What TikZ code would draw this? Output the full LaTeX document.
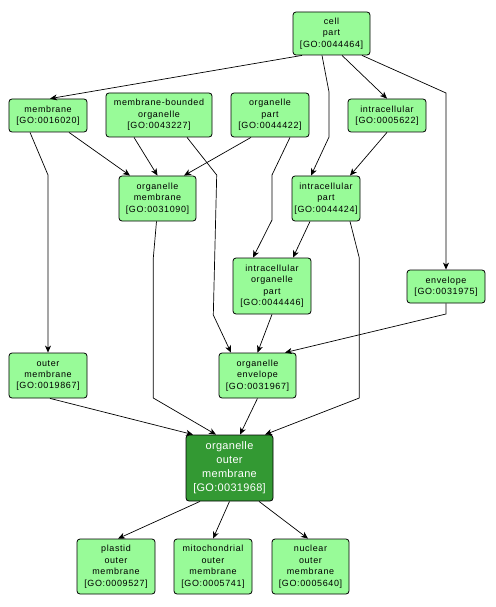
\documentclass[tikz,border=0pt]{standalone}
\usepackage{fontspec}
\setmainfont{Liberation Sans}[LetterSpace=7]
\newfontfamily\bigfont{Liberation Sans}[LetterSpace=3]
\usetikzlibrary{arrows.meta}
\definecolor{lightgo}{RGB}{152,251,152}
\definecolor{darkgo}{RGB}{51,153,51}
\tikzset{
  goterm/.style={draw=black, line width=0.8bp, fill=lightgo, rounded corners=3bp,
    align=center, inner sep=0pt, font=\fontsize{9}{11.5}\selectfont, text=black},
  focus/.style={goterm, fill=darkgo, text=white, font=\bigfont\fontsize{11}{14}\selectfont},
  edge/.style={draw=black, line width=0.7bp, -{Stealth[length=7bp,width=6bp,inset=2bp]}}
}
\begin{document}
\begin{tikzpicture}[x=1bp,y=-1bp]
\useasboundingbox[fill=white] (0,0) rectangle (496,607);
% nodes
\node[goterm, minimum width=77bp, minimum height=43bp] (cellpart) at (331.5,33.5) {cell\\part\\{[}GO:0044464{]}};
\node[goterm, minimum width=78bp, minimum height=33bp] (membrane) at (48,115.5) {membrane\\{[}GO:0016020{]}};
\node[goterm, minimum width=106bp, minimum height=44bp] (mbo) at (159,115) {membrane-bounded\\organelle\\{[}GO:0043227{]}};
\node[goterm, minimum width=78bp, minimum height=44bp] (opart) at (270,115) {organelle\\part\\{[}GO:0044422{]}};
\node[goterm, minimum width=78bp, minimum height=33bp] (intra) at (387,115.5) {intracellular\\{[}GO:0005622{]}};
\node[goterm, minimum width=77bp, minimum height=45bp] (omem) at (157.5,198.5) {organelle\\membrane\\{[}GO:0031090{]}};
\node[goterm, minimum width=68bp, minimum height=45bp] (ipart) at (326,198.5) {intracellular\\part\\{[}GO:0044424{]}};
\node[goterm, minimum width=78bp, minimum height=56bp] (iop) at (272,286) {intracellular\\organelle\\part\\{[}GO:0044446{]}};
\node[goterm, minimum width=78bp, minimum height=33bp] (env) at (446,286.5) {envelope\\{[}GO:0031975{]}};
\node[goterm, minimum width=78bp, minimum height=45bp] (outer) at (48,375.5) {outer\\membrane\\{[}GO:0019867{]}};
\node[goterm, minimum width=77bp, minimum height=45bp] (oenv) at (257.5,375.5) {organelle\\envelope\\{[}GO:0031967{]}};
\node[focus, minimum width=87bp, minimum height=66bp] (oom) at (229.5,468) {organelle\\outer\\membrane\\{[}GO:0031968{]}};
\node[goterm, minimum width=78bp, minimum height=55bp] (plastid) at (116,566.5) {plastid\\outer\\membrane\\{[}GO:0009527{]}};
\node[goterm, minimum width=78bp, minimum height=55bp] (mito) at (213,566.5) {mitochondrial\\outer\\membrane\\{[}GO:0005741{]}};
\node[goterm, minimum width=77bp, minimum height=55bp] (nuc) at (310.5,566.5) {nuclear\\outer\\membrane\\{[}GO:0005640{]}};
% bend points
\coordinate (b2a) at (329,92);
\coordinate (b2b) at (329,137);
\coordinate (b4) at (446,93);
\coordinate (b5) at (48,175);
\coordinate (b8a) at (216.7,175);
\coordinate (b8b) at (213.3,315);
\coordinate (b10a) at (272,175);
\coordinate (b10b) at (272,220);
\coordinate (b13a) at (359.3,258);
\coordinate (b13b) at (359.3,398);
\coordinate (b14a) at (153.3,258);
\coordinate (b14b) at (153.3,398);
\coordinate (b16) at (446,314);
% edges
\draw[edge] ([xshift=-29.5bp]cellpart.south) -- ([xshift=2bp]membrane.north);
\draw[edge] ([xshift=-9.5bp]cellpart.south) -- (b2a) -- (b2b) -- ([xshift=-15bp]ipart.north);
\draw[edge] ([xshift=10.5bp]cellpart.south) -- (intra.north);
\draw[edge] ([xshift=30.5bp]cellpart.south) -- (b4) -- (env.north);
\draw[edge] ([xshift=-18bp]membrane.south) -- (b5) -- (outer.north);
\draw[edge] ([xshift=21bp]membrane.south) -- ([xshift=-27.5bp]omem.north);
\draw[edge] ([xshift=-25bp]mbo.south) -- (omem.north);
\draw[edge] ([xshift=28bp]mbo.south) -- (b8a) -- (b8b) -- ([xshift=-26.5bp]oenv.north);
\draw[edge] ([xshift=-19bp]opart.south) -- ([xshift=26.5bp]omem.north);
\draw[edge] ([xshift=20bp]opart.south) -- (b10a) -- (b10b) -- ([xshift=-19bp]iop.north);
\draw[edge] (intra.south) -- ([xshift=24bp]ipart.north);
\draw[edge] ([xshift=-16bp]ipart.south) -- ([xshift=21bp]iop.north);
\draw[edge] ([xshift=24bp]ipart.south) -- (b13a) -- (b13b) -- ([xshift=35.5bp]oom.north);
\draw[edge] ([xshift=-1bp]omem.south) -- (b14a) -- (b14b) -- ([xshift=-13.5bp]oom.north);
\draw[edge] (iop.south) -- (oenv.north);
\draw[edge] (env.south) -- (b16) -- ([xshift=27.5bp]oenv.north);
\draw[edge] ([xshift=2bp]outer.south) -- ([xshift=-36.5bp]oom.north);
\draw[edge] (oenv.south) -- ([xshift=10.5bp]oom.north);
\draw[edge] ([xshift=-29.5bp]oom.south) -- ([xshift=2bp]plastid.north);
\draw[edge] (oom.south) -- (mito.north);
\draw[edge] ([xshift=29.5bp]oom.south) -- ([xshift=-2.5bp]nuc.north);
\end{tikzpicture}
\end{document}
